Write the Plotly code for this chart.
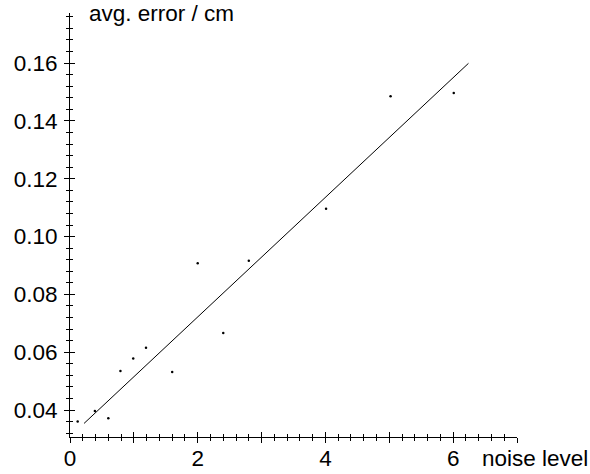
import plotly.graph_objects as go

# data
noise = [0.12, 0.39, 0.60, 0.79, 0.99, 1.19, 1.60, 2.00, 2.40, 2.80, 4.01, 5.02, 6.01]
err = [0.0361, 0.0397, 0.0372, 0.0535, 0.0578, 0.0616, 0.0532, 0.0908, 0.0667, 0.0916, 0.1096, 0.1485, 0.1496]
fit_x = [0.22, 6.24]
fit_y = [0.0354, 0.1599]

x_ticks = [0, 1, 2, 3, 4, 5, 6, 7]
x_ticktext = ["0", "", "2", "", "4", "", "6", ""]
y_ticks = [0.04, 0.06, 0.08, 0.10, 0.12, 0.14, 0.16]
y_ticktext = ["0.04", "0.06", "0.08", "0.10", "0.12", "0.14", "0.16"]

FONT = "Liberation Sans, Arial, sans-serif"
FS = 22.5
XR = [0, 7]
YR = [0.0307, 0.1773]

fig = go.Figure()
fig.add_trace(go.Scatter(x=fit_x, y=fit_y, mode="lines",
                         line=dict(color="black", width=1), showlegend=False, hoverinfo="skip"))
fig.add_trace(go.Scatter(x=noise, y=err, mode="markers",
                         marker=dict(color="black", size=2.5), showlegend=False))
# invisible trace so the overlay axes (inner halves of crossing ticks) are drawn
fig.add_trace(go.Scatter(x=[None], y=[None], xaxis="x2", yaxis="y2", showlegend=False))

common = dict(showgrid=False, zeroline=False, showline=True, linecolor="black", linewidth=1,
              tickcolor="black", tickwidth=1, automargin=False)

fig.update_layout(
    width=590, height=474,
    margin=dict(l=70, r=73, t=13, b=37, autoexpand=False),
    paper_bgcolor="white", plot_bgcolor="white",
    font=dict(family=FONT, size=FS, color="black"),
    xaxis=dict(range=XR, tickmode="array", tickvals=x_ticks, ticktext=x_ticktext,
               ticks="outside", ticklen=5, ticklabelstandoff=-4,
               minor=dict(dtick=0.2, tick0=0, ticks="outside", ticklen=3, tickcolor="black", tickwidth=1),
               **common),
    yaxis=dict(range=YR, tickmode="array", tickvals=y_ticks, ticktext=y_ticktext,
               ticks="outside", ticklen=5, ticklabelstandoff=2,
               minor=dict(dtick=0.004, tick0=0, ticks="outside", ticklen=3, tickcolor="black", tickwidth=1),
               **common),
    xaxis2=dict(range=XR, matches="x", overlaying="x", side="bottom", tickmode="array",
                tickvals=x_ticks, showticklabels=False, ticks="inside", ticklen=5,
                minor=dict(dtick=0.2, tick0=0, ticks="inside", ticklen=3, tickcolor="black", tickwidth=1),
                **common),
    yaxis2=dict(range=YR, matches="y", overlaying="y", side="left", tickmode="array",
                tickvals=y_ticks, showticklabels=False, ticks="inside", ticklen=5,
                minor=dict(dtick=0.004, tick0=0, ticks="inside", ticklen=3, tickcolor="black", tickwidth=1),
                **common),
    annotations=[
        dict(text="avg. error / cm", xref="x", x=0, xshift=17, xanchor="left",
             yref="paper", y=1, yshift=0, yanchor="middle", showarrow=False,
             font=dict(family=FONT, size=FS, color="black")),
        dict(text="noise level", xref="x", x=6.42, xanchor="left",
             yref="paper", y=0, yshift=-21, yanchor="middle", showarrow=False,
             font=dict(family=FONT, size=FS, color="black")),
    ],
)

# remove the default page margin so the 590x474 figure fills the window exactly
fig.write_html("out.html", config={"displayModeBar": False},
               post_script="document.body.style.margin='0';")
